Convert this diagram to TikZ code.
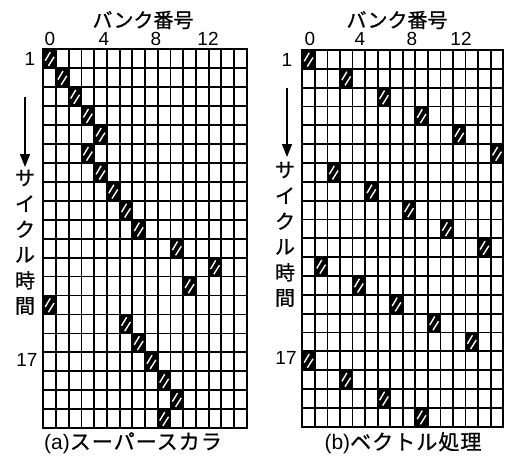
\documentclass[tikz,border=0pt]{standalone}
\usepackage{fontspec}
\setmainfont{Liberation Sans}
\newfontfamily\jpfont[FakeBold=0.8]{Noto Sans CJK JP}
\newfontfamily\jpwide[FakeBold=0.8, LetterSpace=5]{Noto Sans CJK JP}
\usetikzlibrary{arrows.meta}
\tikzset{gridline/.style = {line width = 1.8pt, line cap = rect}}
\tikzset{hitcell/.style = {fill = black}}
\tikzset{hatch/.style = {white, line width = 1.4pt}}
\tikzset{digit/.style = {font = \fontsize{19}{19}\selectfont, inner sep = 0pt}}
\tikzset{head/.style = {font = \jpfont\fontsize{20}{20}\selectfont, inner sep = 0pt}}
\tikzset{vchar/.style = {font = \jpfont\fontsize{20}{20}\selectfont, inner sep = 0pt}}
\tikzset{caption/.style = {font = \fontsize{21}{21}\selectfont, inner sep = 0pt}}
\tikzset{timearrow/.style = {line width = 1.5pt, -{Triangle[length = 13pt, width = 10pt]}}}

\begin{document}
\begin{tikzpicture}[x = 1pt, y = -1pt]
	\useasboundingbox (0, 0) rectangle (508, 461);

	% (a) superscalar
	\begin{scope}[shift = {(43.3, 49.3)}, x = 12.72pt, y = -18.94pt]
		\foreach \c [count = \r from 0] in {0,1,2,3,4,3,4,5,6,7,10,13,11,0,6,7,8,9,10,9} {
			\fill[hitcell] (\c, \r) rectangle ++(1, 1);
			\draw[hatch] (\c + 0.15, \r + 0.6) -- (\c + 0.55, \r + 0.15);
			\draw[hatch] (\c + 0.4, \r + 0.88) -- (\c + 0.85, \r + 0.4);
		}
		\foreach \c in {0, ..., 16} \draw[gridline] (\c, 0) -- (\c, 20);
		\foreach \r in {0, ..., 20} \draw[gridline] (0, \r) -- (16, \r);
	\end{scope}

	\node[head] (headA) at (143, 20) {バンク番号};
	\node[digit] (colA0) at (50, 39) {0};
	\node[digit] (colA4) at (104, 39) {4};
	\node[digit] (colA8) at (156, 39) {8};
	\node[digit] (colA12) at (208, 39) {12};
	\node[digit] (rowA1) at (30, 59) {1};
	\node[digit] (rowA17) at (27, 360) {17};
	\coordinate (arrAtop) at (25, 97);
	\coordinate (arrAend) at (25, 167);
	\draw[timearrow] (arrAtop) -- (arrAend);
	\foreach \ch [count = \i from 0] in {サ,イ,ク,ル,時,間}
		\node[vchar] (vA\i) at (25, 178 + 25.6*\i) {\ch};
	\node[caption] (capA) at (133, 443) {(a)\jpwide スーパースカラ};

	% (b) vector
	\begin{scope}[shift = {(302.3, 50)}, x = 12.56pt, y = -18.83pt]
		\foreach \r in {0, ..., 19} {
			\pgfmathtruncatemacro{\c}{mod(3*\r, 16)}
			\fill[hitcell] (\c, \r) rectangle ++(1, 1);
			\draw[hatch] (\c + 0.15, \r + 0.6) -- (\c + 0.55, \r + 0.15);
			\draw[hatch] (\c + 0.4, \r + 0.88) -- (\c + 0.85, \r + 0.4);
		}
		\foreach \c in {0, ..., 16} \draw[gridline] (\c, 0) -- (\c, 20);
		\foreach \r in {0, ..., 20} \draw[gridline] (0, \r) -- (16, \r);
	\end{scope}

	\node[head] (headB) at (397, 20) {バンク番号};
	\node[digit] (colB0) at (310, 39) {0};
	\node[digit] (colB4) at (360, 39) {4};
	\node[digit] (colB8) at (412, 39) {8};
	\node[digit] (colB12) at (461, 39) {12};
	\node[digit] (rowB1) at (287, 60) {1};
	\node[digit] (rowB17) at (286, 358) {17};
	\coordinate (arrBtop) at (287, 88);
	\coordinate (arrBend) at (287, 157);
	\draw[timearrow] (arrBtop) -- (arrBend);
	\foreach \ch [count = \i from 0] in {サ,イ,ク,ル,時,間}
		\node[vchar] (vB\i) at (285, 170 + 25.6*\i) {\ch};
	\node[caption] (capB) at (403, 443) {(b)\jpwide ベクトル処理};
\end{tikzpicture}
\end{document}
